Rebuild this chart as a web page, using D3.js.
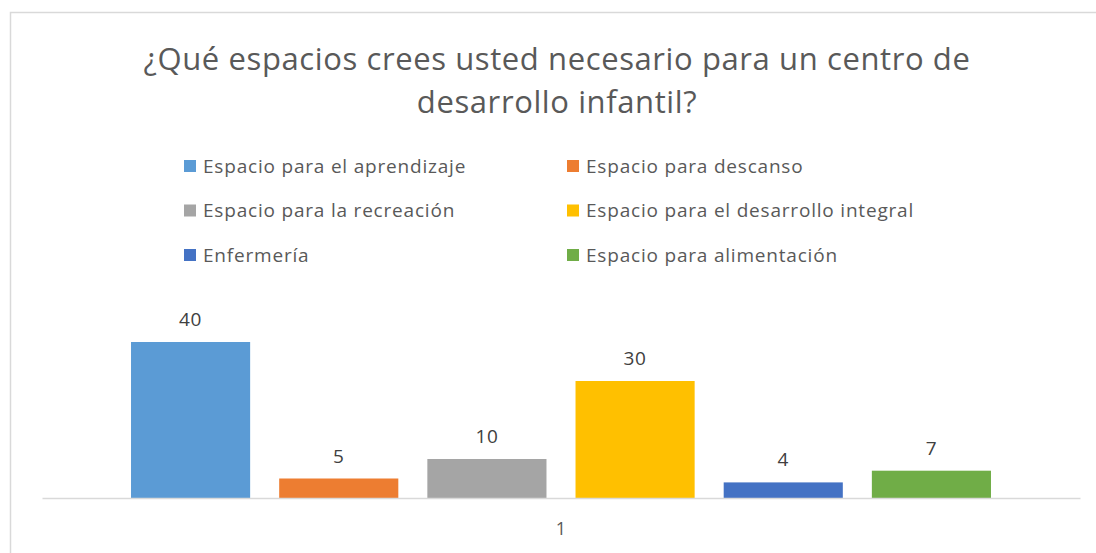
<!DOCTYPE html>
<html>
<head>
<meta charset="utf-8">
<script src="https://cdn.jsdelivr.net/npm/d3@7"></script>
<style>
  body { margin: 0; background: #fff; }
  text { font-family: "Open Sans", "Noto Sans", sans-serif; }
</style>
</head>
<body>
<svg width="1096" height="553"></svg>
<script>
// Data
const categories = ["1"];
const series = [
  "Espacio para el aprendizaje",
  "Espacio para descanso",
  "Espacio para la recreación",
  "Espacio para el desarrollo integral",
  "Enfermería",
  "Espacio para alimentación"
];
const values = [40, 5, 10, 30, 4, 7];
const colors = ["#5B9BD5", "#ED7D31", "#A5A5A5", "#FFC000", "#4472C4", "#70AD47"];
const titleLines = ["¿Qué espacios crees usted necesario para un centro de", "desarrollo infantil?"];

const svg = d3.select("svg");

// outer chart border
svg.append("rect")
  .attr("x", 10.5).attr("y", 12.5)
  .attr("width", 1100).attr("height", 560)
  .attr("fill", "#fff")
  .attr("stroke", "#d9d9d9")
  .attr("stroke-width", 1.5);

// Title
svg.append("g").selectAll("text")
  .data(titleLines)
  .join("text")
  .attr("x", 557)
  .attr("y", (d, i) => 70 + i * 43)
  .attr("text-anchor", "middle")
  .attr("fill", "#595959")
  .style("font-size", "31px")
  .style("letter-spacing", "0.6px")
  .text(d => d);

// Legend: 3 rows x 2 columns
const legend = svg.append("g")
  .selectAll("g")
  .data(series)
  .join("g")
  .attr("transform", (d, i) => `translate(${i % 2 === 0 ? 184 : 567},${166 + Math.floor(i / 2) * 44.5})`);

legend.append("rect")
  .attr("x", 0).attr("y", -6)
  .attr("width", 12).attr("height", 12)
  .attr("fill", (d, i) => colors[i]);

legend.append("text")
  .attr("x", 19)
  .attr("dy", "0.35em")
  .attr("fill", "#595959")
  .style("font-size", "19px")
  .style("letter-spacing", "0.8px")
  .text(d => d);

// Scales
const x0 = d3.scaleBand()
  .domain(categories)
  .range([42, 1080]);

const x1 = d3.scaleBand()
  .domain(series)
  .range([116.5, 1005.5])
  .paddingInner(0.196)
  .paddingOuter(0.098);

const y = d3.scaleLinear()
  .domain([0, 40])
  .range([498, 342]);

// Bars
svg.append("g").selectAll("rect")
  .data(series)
  .join("rect")
  .attr("x", d => x1(d))
  .attr("y", (d, i) => y(values[i]))
  .attr("width", x1.bandwidth())
  .attr("height", (d, i) => y(0) - y(values[i]))
  .attr("fill", (d, i) => colors[i]);

// Data labels
svg.append("g").selectAll("text")
  .data(series)
  .join("text")
  .attr("x", d => x1(d) + x1.bandwidth() / 2)
  .attr("y", (d, i) => y(values[i]) - 16)
  .attr("text-anchor", "middle")
  .attr("fill", "#404040")
  .style("font-size", "19px")
  .style("letter-spacing", "0.6px")
  .text((d, i) => values[i]);

// X axis
const xAxis = svg.append("g")
  .attr("transform", "translate(0,498)")
  .call(d3.axisBottom(x0).tickSize(0).tickPadding(24));
xAxis.select(".domain").attr("stroke", "#d9d9d9").attr("stroke-width", 1.5);
xAxis.selectAll(".tick text")
  .attr("fill", "#595959")
  .style("font-size", "18px")
  .style("font-family", "'Open Sans', sans-serif");
</script>
</body>
</html>
